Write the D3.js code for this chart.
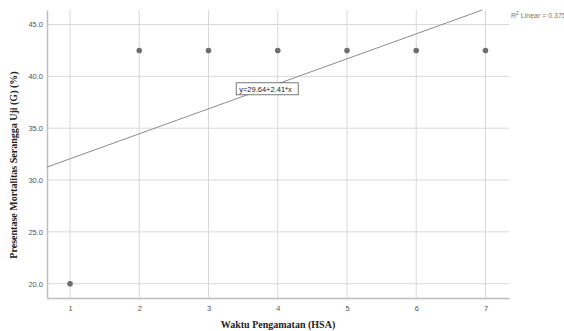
<!DOCTYPE html>
<html>
<head>
<meta charset="utf-8">
<script src="https://cdn.jsdelivr.net/npm/d3@7"></script>
<style>
body { margin: 0; background: #fff; }
svg text { font-family: "Liberation Sans", Arial, sans-serif; }
</style>
</head>
<body>
<script>
// data
var days = [1, 2, 3, 4, 5, 6, 7];
var mortality = [20, 42.5, 42.5, 42.5, 42.5, 42.5, 42.5];
var yTicks = [20, 25, 30, 35, 40, 45];
var fitIntercept = 29.64;
var fitSlope = 2.41;
var r2 = "0.375";

var width = 564, height = 331;
var plotL = 47, plotR = 509, plotT = 10, plotB = 298;

var svg = d3.select("body").append("svg")
    .attr("width", width)
    .attr("height", height);

var x = d3.scaleLinear().domain([0.667, 7.34]).range([plotL, plotR]);
var y = d3.scaleLinear().domain([18.62, 46.4]).range([plotB, plotT]);

// grid
svg.append("g").selectAll("line").data(days).enter().append("line")
    .attr("x1", d => x(d)).attr("x2", d => x(d))
    .attr("y1", plotT).attr("y2", plotB)
    .attr("stroke", "#d9d9d9").attr("stroke-width", 1);
svg.append("g").selectAll("line").data(yTicks).enter().append("line")
    .attr("x1", plotL).attr("x2", plotR)
    .attr("y1", d => y(d)).attr("y2", d => y(d))
    .attr("stroke", "#d9d9d9").attr("stroke-width", 1);

// axes
var xAxis = svg.append("g")
    .attr("transform", "translate(0," + plotB + ")")
    .call(d3.axisBottom(x).tickValues(days).tickSize(0).tickPadding(8).tickFormat(d3.format("d")));
var yAxis = svg.append("g")
    .attr("transform", "translate(" + plotL + ",0)")
    .call(d3.axisLeft(y).tickValues(yTicks).tickSize(0).tickPadding(4).tickFormat(d3.format(".1f")));
[xAxis, yAxis].forEach(function(a){
    a.select(".domain").attr("stroke", "#bdbdbd").attr("stroke-width", 1.5);
    a.selectAll("text").attr("font-size", "7.5px").attr("fill", "#555");
});

// fit line, clipped at the plot top
var xEnd = Math.min(x.domain()[1], (y.domain()[1] - fitIntercept) / fitSlope);
var x0 = x.domain()[0];
svg.append("line")
    .attr("x1", x(x0)).attr("y1", y(fitIntercept + fitSlope * x0))
    .attr("x2", x(xEnd)).attr("y2", y(fitIntercept + fitSlope * xEnd))
    .attr("stroke", "#8c8c8c").attr("stroke-width", 1);

// points
svg.append("g").selectAll("circle").data(days).enter().append("circle")
    .attr("cx", d => x(d))
    .attr("cy", (d, i) => y(mortality[i]))
    .attr("r", 2.8)
    .attr("fill", "#6e6e6e");

// equation label
var eq = svg.append("g").attr("transform", "translate(" + x(3.4) + "," + y(38.8) + ")");
eq.append("rect").attr("x", 0).attr("y", -6).attr("width", 62).attr("height", 12)
    .attr("fill", "#fff").attr("stroke", "#555").attr("stroke-width", 0.8);
eq.append("text").attr("x", 3).attr("y", 3)
    .attr("font-size", "7.5px").attr("fill", "#222")
    .text("y=" + fitIntercept + "+" + fitSlope + "*x");

// R2 label
var r2Text = svg.append("text").attr("x", plotR + 2).attr("y", 18)
    .attr("font-size", "7px").attr("fill", "#777");
r2Text.append("tspan").text("R");
r2Text.append("tspan").attr("font-size", "5px").attr("dy", -3).text("2");
r2Text.append("tspan").attr("dy", 3).text(" Linear = " + r2);

// titles
svg.append("text")
    .attr("x", (plotL + plotR) / 2).attr("y", 328)
    .attr("text-anchor", "middle")
    .style("font-family", "'Liberation Serif', 'Times New Roman', serif")
    .attr("font-weight", "bold").attr("font-size", "10px").attr("fill", "#222")
    .text("Waktu Pengamatan (HSA)");
svg.append("text")
    .attr("transform", "translate(17," + 165 + ") rotate(-90)")
    .attr("text-anchor", "middle")
    .style("font-family", "'Liberation Serif', 'Times New Roman', serif")
    .attr("font-weight", "bold").attr("font-size", "10px").attr("fill", "#222")
    .text("Presentase Mortalitas Serangga Uji (G) (%)");
</script>
</body>
</html>
